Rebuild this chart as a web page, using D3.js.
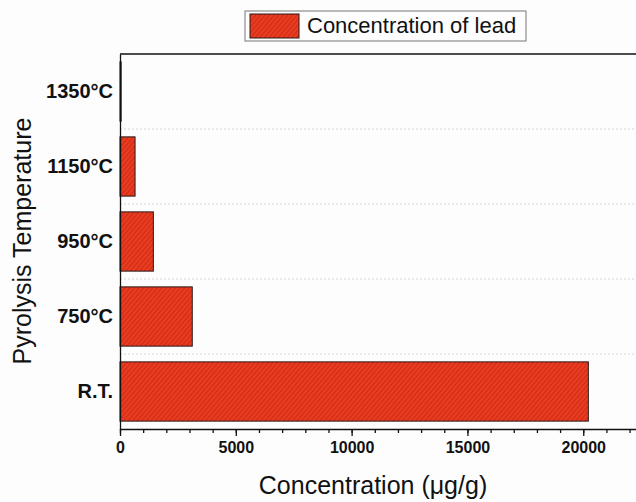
<!DOCTYPE html>
<html>
<head>
    <script src="https://cdn.jsdelivr.net/npm/d3@7"></script>
</head>
<style>
    body { margin: 0; background: #fdfdfd; }
    .axis path, .axis line { stroke: #111; stroke-width: 1.3px; }
    .xaxis text { font-family: "Liberation Sans", Arial, sans-serif; font-weight: bold; font-size: 16px; fill: #111; }
    .yaxis text { font-family: "Liberation Sans", Arial, sans-serif; font-weight: bold; font-size: 20px; fill: #111; }
</style>
<body>
<div id="chart"></div>
<script>

    var categories = ['R.T.', '750°C', '950°C', '1150°C', '1350°C'];
    var concentration = [20220, 3120, 1440, 650, 50];
    var xTicks = [0, 5000, 10000, 15000, 20000];
    var seriesName = 'Concentration of lead';

    var W = 636, H = 502;
    var padding = { top: 54, right: 0, bottom: 73, left: 120 };
    var width = W - padding.left - padding.right + 4;
    var height = H - padding.top - padding.bottom;

    var svg = d3.select('#chart').append('svg')
        .attr('width', W)
        .attr('height', H);

    svg.append('rect').attr('width', W).attr('height', H).attr('fill', '#fdfdfd');

    // hatch pattern
    var defs = svg.append('defs');
    var pat = defs.append('pattern')
        .attr('id', 'hatch')
        .attr('patternUnits', 'userSpaceOnUse')
        .attr('width', 3.5)
        .attr('height', 3.5)
        .attr('patternTransform', 'rotate(40)');
    pat.append('rect').attr('width', 3.5).attr('height', 3.5).attr('fill', '#ea3a1f');
    pat.append('line')
        .attr('x1', 0).attr('y1', 0).attr('x2', 0).attr('y2', 3.5)
        .attr('stroke', '#ad2412').attr('stroke-width', 1.1);

    var xScale = d3.scaleLinear()
        .domain([0, 22450])
        .range([0, width]);

    var yScale = d3.scaleBand()
        .domain(categories.slice().reverse())
        .range([0, height])
        .paddingInner(0.21)
        .paddingOuter(0.105);

    var g = svg.append('g')
        .attr('transform', 'translate(' + padding.left + ',' + padding.top + ')');

    // dotted separators between bands
    var step = yScale.step();
    g.selectAll('line.grid')
        .data(d3.range(1, categories.length))
        .enter()
        .append('line')
        .attr('x1', 0).attr('x2', width)
        .attr('y1', function(d) { return d * step; })
        .attr('y2', function(d) { return d * step; })
        .attr('stroke', '#d6d6d6')
        .attr('stroke-width', 1)
        .attr('stroke-dasharray', '2,2');

    g.selectAll('rect.bar')
        .data(categories)
        .enter()
        .append('rect')
        .attr('class', 'bar')
        .attr('x', 0)
        .attr('y', function(d) { return yScale(d); })
        .attr('height', yScale.bandwidth())
        .attr('width', function(d, i) { return xScale(concentration[i]); })
        .attr('fill', 'url(#hatch)')
        .attr('stroke', '#2a1a1a')
        .attr('stroke-width', 1);

    // top frame
    g.append('line')
        .attr('x1', 0).attr('x2', width)
        .attr('y1', 0).attr('y2', 0)
        .attr('stroke', '#111').attr('stroke-width', 1.3);

    // minor ticks
    g.append('g')
        .attr('class', 'axis xaxis')
        .attr('transform', 'translate(0,' + height + ')')
        .call(d3.axisBottom(xScale).tickValues(d3.range(0, 23000, 1000)).tickSize(4).tickFormat(''))
        .select('.domain').remove();

    g.append('g')
        .attr('class', 'axis xaxis')
        .attr('transform', 'translate(0,' + height + ')')
        .call(d3.axisBottom(xScale).tickValues(xTicks).tickSize(7).tickSizeOuter(0).tickPadding(6).tickFormat(d3.format('d')));

    g.append('g')
        .attr('class', 'axis yaxis')
        .call(d3.axisLeft(yScale).tickSize(0).tickSizeOuter(0).tickPadding(7));

    // axis titles
    svg.append('text')
        .attr('x', 373)
        .attr('y', 494)
        .attr('text-anchor', 'middle')
        .style('font-family', '"Liberation Sans", Arial, sans-serif')
        .style('font-size', '25px')
        .attr('fill', '#111')
        .text('Concentration (μg/g)');

    svg.append('text')
        .attr('transform', 'translate(31,' + 241 + ') rotate(-90)')
        .attr('text-anchor', 'middle')
        .style('font-family', '"Liberation Sans", Arial, sans-serif')
        .style('font-size', '25px')
        .attr('fill', '#111')
        .text('Pyrolysis Temperature');

    // legend
    var lg = svg.append('g').attr('transform', 'translate(245,11)');
    lg.append('rect')
        .attr('width', 281).attr('height', 30)
        .attr('fill', '#fdfdfd').attr('stroke', '#777').attr('stroke-width', 1);
    lg.append('rect')
        .attr('x', 5).attr('y', 3).attr('width', 49).attr('height', 24)
        .attr('fill', 'url(#hatch)').attr('stroke', '#2a1a1a');
    lg.append('text')
        .attr('x', 62).attr('y', 22)
        .style('font-family', '"Liberation Sans", Arial, sans-serif')
        .style('font-size', '22px')
        .attr('fill', '#111')
        .text(seriesName);

</script>
</body>
</html>
